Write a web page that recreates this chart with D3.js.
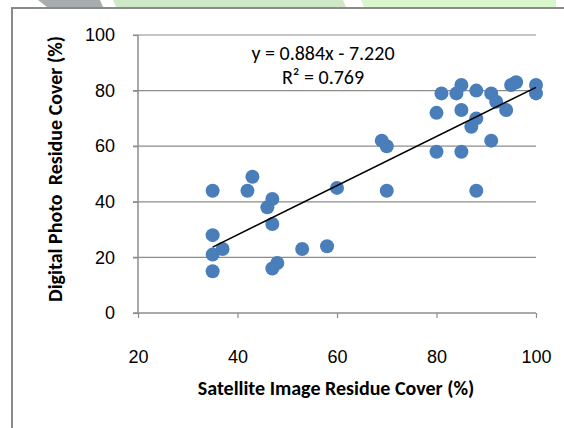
<!DOCTYPE html>
<html>
<head>
<meta charset="utf-8">
<script src="https://cdn.jsdelivr.net/npm/d3@7"></script>
<style>
  body { margin: 0; background: #fff; }
  svg { display: block; font-family: Carlito, Lato, "Liberation Sans", sans-serif; }
</style>
</head>
<body>
<svg width="564" height="428"></svg>
<script>
// satellite image residue cover (%) vs digital photo residue cover (%)
var satellite = [35, 43, 42, 47, 46, 47, 35, 37, 35, 35, 47, 48, 53, 58, 60,
                 69, 70, 70, 81, 84, 85, 88, 91, 92, 94, 95, 96, 100, 100,
                 80, 85, 88, 87, 91, 80, 85, 88];
var photo = [44, 49, 44, 41, 38, 32, 28, 23, 21, 15, 16, 18, 23, 24, 45,
             62, 60, 44, 79, 79, 82, 80, 79, 76, 73, 82, 83, 82, 79,
             72, 73, 70, 67, 62, 58, 58, 44];
var xTicks = [20, 40, 60, 80, 100];
var yTicks = [0, 20, 40, 60, 80, 100];
var slope = 0.884, intercept = -7.220;
var eqLines = ["y = 0.884x - 7.220", "R² = 0.769"];

var svg = d3.select("svg");

// faint page decoration above the chart frame
svg.append("path").attr("d", "M38,0 L100,0 L103,7 L47,7 Z").attr("fill", "#a7acaf");
svg.append("path").attr("d", "M113,0 L343,0 L346,7 L116,7 Z").attr("fill", "#cfe8c8");
svg.append("path").attr("d", "M361,0 L556,0 L556,7 L364,7 Z").attr("fill", "#d9f6cd");

// chart frame, runs off the right and bottom edges
svg.append("rect").attr("x", 12).attr("y", 8).attr("width", 600).attr("height", 460)
  .attr("fill", "#fff").attr("stroke", "#8a8a8a").attr("stroke-width", 2);

var x = d3.scaleLinear().domain([20, 100]).range([138, 536]);
var y = d3.scaleLinear().domain([0, 100]).range([313, 35]);

// horizontal gridlines
svg.append("g").selectAll("line").data(yTicks.slice(1)).enter().append("line")
  .attr("x1", 133).attr("x2", x(100))
  .attr("y1", function (d) { return y(d); }).attr("y2", function (d) { return y(d); })
  .attr("stroke", "#8c8c8c").attr("stroke-width", 1.2);

var xAxis = svg.append("g").attr("transform", "translate(0," + y(0) + ")")
  .call(d3.axisBottom(x).tickValues(xTicks).tickSize(5));
var yAxis = svg.append("g").attr("transform", "translate(" + x(20) + ",0)")
  .call(d3.axisLeft(y).tickValues(yTicks).tickSize(5).tickPadding(18));

[xAxis, yAxis].forEach(function (g) {
  g.select(".domain").attr("stroke", "#8c8c8c").attr("stroke-width", 1.5);
  g.selectAll(".tick line").attr("stroke", "#8c8c8c").attr("stroke-width", 1.2);
  g.selectAll("text").attr("font-family", null).attr("font-size", 18).attr("fill", "#000");
});
xAxis.selectAll("text").attr("y", 49.5).attr("dy", 0);
yAxis.select(".domain").attr("d", "M0," + y(100) + "V" + y(0));
xAxis.select(".domain").attr("d", "M" + (x(20) - 5) + ",0H" + x(100));

// points
svg.append("g").selectAll("circle").data(satellite).enter().append("circle")
  .attr("cx", function (d) { return x(d); })
  .attr("cy", function (d, i) { return y(photo[i]); })
  .attr("r", 7)
  .attr("fill", "#4a7ebb");

// linear trendline over the data range
var xMin = d3.min(satellite), xMax = d3.max(satellite);
svg.append("line")
  .attr("x1", x(xMin)).attr("y1", y(slope * xMin + intercept))
  .attr("x2", x(xMax)).attr("y2", y(slope * xMax + intercept))
  .attr("stroke", "#000").attr("stroke-width", 1.5);

// trendline label, one text block with two lines
var eq = svg.append("text").attr("text-anchor", "middle").attr("font-size", 20);
eq.selectAll("tspan").data(eqLines).enter().append("tspan")
  .attr("x", 323).attr("y", function (d, i) { return 60 + i * 24; })
  .text(function (d) { return d; });

svg.append("text").attr("x", 336).attr("y", 395)
  .attr("text-anchor", "middle").attr("font-size", 20).attr("font-weight", "bold")
  .text("Satellite Image Residue Cover (%)");

svg.append("text").attr("transform", "translate(62,169) rotate(-90)")
  .attr("text-anchor", "middle").attr("font-size", 20).attr("font-weight", "bold")
  .attr("xml:space", "preserve").style("white-space", "pre")
  .text("Digital Photo  Residue Cover (%)");
</script>
</body>
</html>
